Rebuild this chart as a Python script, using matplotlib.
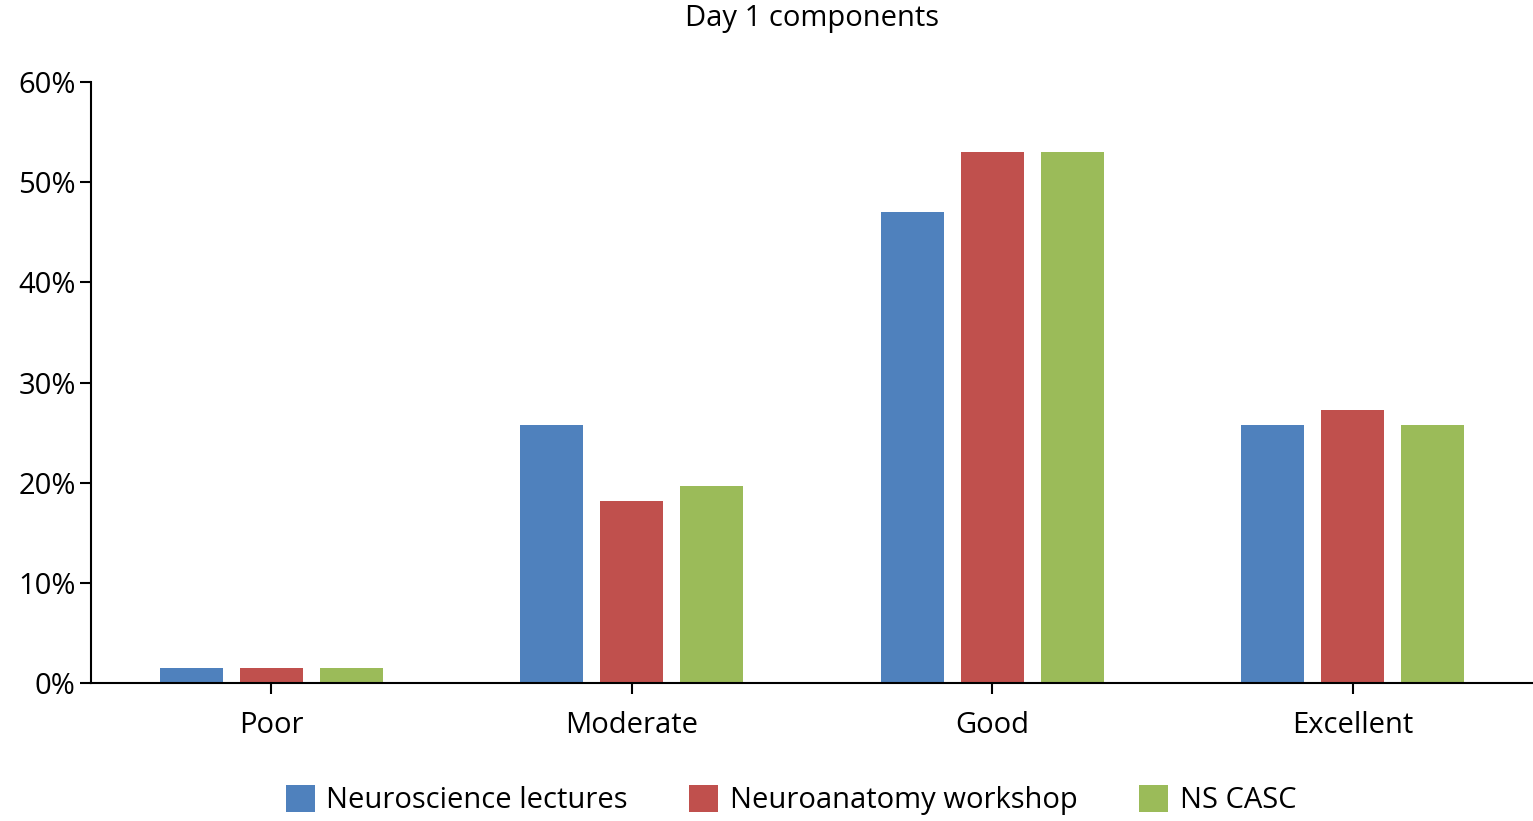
import matplotlib
matplotlib.use("Agg")
import matplotlib.pyplot as plt
from matplotlib.ticker import FuncFormatter
import numpy as np

categories = ["Poor", "Moderate", "Good", "Excellent"]
series_names = ["Neuroscience lectures", "Neuroanatomy workshop", "NS CASC"]
lectures = [1.5, 25.8, 47.0, 25.8]
workshop = [1.5, 18.2, 53.0, 27.3]
casc = [1.5, 19.7, 53.0, 25.8]
colors = ["#4F81BD", "#C0504D", "#9BBB59"]

plt.rcParams["font.family"] = ["Open Sans", "DejaVu Sans"]
FS = 21

fig = plt.figure(figsize=(15.33, 8.21), dpi=100)
ax = fig.add_axes([0.0594, 0.1681, 0.9406, 0.7320])

x = np.arange(len(categories))
width = 0.175
offset = 0.222
for i, (vals, name) in enumerate(zip([lectures, workshop, casc], series_names)):
    ax.bar(x + (i - 1) * offset, vals, width, color=colors[i], label=name, zorder=2)

ax.set_xlim(-0.5, 3.5)
ax.set_ylim(0, 60)
ax.set_yticks(range(0, 61, 10))
ax.yaxis.set_major_formatter(FuncFormatter(lambda v, p: f"{int(v)}%"))
ax.set_xticks(x)
ax.set_xticklabels(categories)

for side in ["top", "right"]:
    ax.spines[side].set_visible(False)
for side in ["left", "bottom"]:
    ax.spines[side].set_linewidth(1.5)
    ax.spines[side].set_color("black")

ax.tick_params(axis="both", direction="out", length=8, width=1.5, labelsize=FS,
               colors="black")
ax.tick_params(axis="y", pad=3)
ax.tick_params(axis="x", pad=12)

ax.set_title("Day 1 components", fontsize=FS, pad=40)

fig.legend(loc="center", bbox_to_anchor=(0.516, 0.025), ncol=3, frameon=False,
           fontsize=FS, handlelength=1.0, handleheight=1.0, handletextpad=0.4,
           columnspacing=2.1)

fig.savefig("out.png", dpi=100)
